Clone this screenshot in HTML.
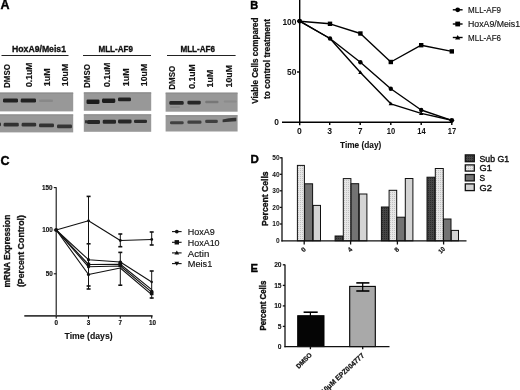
<!DOCTYPE html>
<html><head><meta charset="utf-8">
<style>
html,body{margin:0;padding:0;background:#fff;width:520px;height:390px;overflow:hidden}
svg{display:block;font-family:"Liberation Sans",sans-serif;filter:grayscale(1)}
.b{font-weight:bold}
</style></head>
<body>
<svg width="520" height="390" viewBox="0 0 520 390">
<defs>
<filter id="bl" x="-20%" y="-50%" width="140%" height="200%"><feGaussianBlur stdDeviation="0.65"/></filter>
<filter id="bl2" x="-20%" y="-50%" width="140%" height="200%"><feGaussianBlur stdDeviation="1"/></filter>
<pattern id="dots1" width="2" height="2" patternUnits="userSpaceOnUse"><rect width="2" height="2" fill="#e6e6e6"/><rect width="1" height="1" fill="#c2c2c2"/></pattern>
<pattern id="dots0" width="2" height="2" patternUnits="userSpaceOnUse"><rect width="2" height="2" fill="#454545"/><rect width="1" height="1" fill="#2a2a2a"/></pattern>
</defs>

<!-- ============ PANEL A ============ -->
<text class="b" x="0.5" y="9.2" font-size="12.5" stroke="#000" stroke-width="0.4">A</text>
<g class="b" font-size="9.4" fill="#111" stroke="#111" stroke-width="0.35">
<text x="12" y="51.8" textLength="54" lengthAdjust="spacingAndGlyphs">HoxA9/Meis1</text>
<text x="98.4" y="51.8" textLength="34.6" lengthAdjust="spacingAndGlyphs">MLL-AF9</text>
<text x="180.4" y="51.8" textLength="34.6" lengthAdjust="spacingAndGlyphs">MLL-AF6</text>
</g>
<g stroke="#222" stroke-width="1.2">
<line x1="1.5" y1="55.5" x2="68.5" y2="55.5"/>
<line x1="83" y1="55.5" x2="151" y2="55.5"/>
<line x1="167" y1="55.5" x2="235.6" y2="55.5"/>
</g>
<g class="b" font-size="8.2" fill="#111" stroke="#111" stroke-width="0.15">
<text transform="translate(10.4,87.9) rotate(-90)" textLength="23.8" lengthAdjust="spacingAndGlyphs">DMSO</text>
<text transform="translate(31.5,86.9) rotate(-90)" textLength="24.3" lengthAdjust="spacingAndGlyphs">0.1uM</text>
<text transform="translate(49.8,86.2) rotate(-90)" textLength="17.8" lengthAdjust="spacingAndGlyphs">1uM</text>
<text transform="translate(67.8,86.2) rotate(-90)" textLength="22.400000000000002" lengthAdjust="spacingAndGlyphs">10uM</text>
<text transform="translate(90.4,87.9) rotate(-90)" textLength="23.8" lengthAdjust="spacingAndGlyphs">DMSO</text>
<text transform="translate(110.4,86.9) rotate(-90)" textLength="24.3" lengthAdjust="spacingAndGlyphs">0.1uM</text>
<text transform="translate(129.3,86.2) rotate(-90)" textLength="17.8" lengthAdjust="spacingAndGlyphs">1uM</text>
<text transform="translate(147.2,86.2) rotate(-90)" textLength="22.400000000000002" lengthAdjust="spacingAndGlyphs">10uM</text>
<text transform="translate(174.7,89.7) rotate(-90)" textLength="23.8" lengthAdjust="spacingAndGlyphs">DMSO</text>
<text transform="translate(194.7,88.7) rotate(-90)" textLength="24.3" lengthAdjust="spacingAndGlyphs">0.1uM</text>
<text transform="translate(213.1,87.4) rotate(-90)" textLength="17.8" lengthAdjust="spacingAndGlyphs">1uM</text>
<text transform="translate(231.6,87.4) rotate(-90)" textLength="22.400000000000002" lengthAdjust="spacingAndGlyphs">10uM</text>
</g>
<!-- blots -->
<g fill="#989898">
<rect x="0" y="92.3" width="73.2" height="19.1"/>
<rect x="0" y="114.2" width="73.2" height="18.2"/>
<rect x="83.8" y="92.1" width="67.4" height="18.7"/>
<rect x="83.8" y="114.1" width="67.4" height="17.7"/>
<rect x="165.6" y="92.4" width="72" height="19.3"/>
<rect x="165.6" y="115" width="72" height="16.5"/>
</g>
<g fill="#8a8a8a" opacity="0.7">
<rect x="0" y="93" width="73.2" height="1"/>
<rect x="83.8" y="92.8" width="67.4" height="1"/>
<rect x="165.6" y="93.1" width="72" height="1"/>
<rect x="0" y="114.8" width="73.2" height="0.8"/>
<rect x="83.8" y="114.7" width="67.4" height="0.8"/>
<rect x="165.6" y="115.6" width="72" height="0.8"/>
</g>
<g filter="url(#bl)">
<!-- HoxA9 top -->
<rect x="3" y="98.6" width="15" height="3.9" rx="1.3" fill="#222"/>
<rect x="20.7" y="98.6" width="15.3" height="3.9" rx="1.3" fill="#222"/>
<rect x="39" y="99.5" width="14" height="2.4" rx="1.2" fill="#888"/>
<!-- HoxA9 bottom -->
<rect x="-2" y="122.6" width="3" height="3.6" rx="1.3" fill="#333"/>
<rect x="3.6" y="122.7" width="15.2" height="3.8" rx="1.3" fill="#333"/>
<rect x="21.6" y="122.7" width="14.6" height="3.8" rx="1.3" fill="#333"/>
<rect x="39" y="123.4" width="15" height="3.8" rx="1.3" fill="#333"/>
<rect x="57" y="124.5" width="15" height="3.8" rx="1.3" fill="#363636"/>
<!-- MLL-AF9 top -->
<rect x="86.5" y="99.4" width="13" height="4.7" rx="1.3" fill="#1e1e1e"/>
<rect x="102" y="98.4" width="13.3" height="4.5" rx="1.3" fill="#1e1e1e"/>
<rect x="118" y="97.6" width="13" height="3.7" rx="1.3" fill="#222"/>
<!-- MLL-AF9 bottom -->
<rect x="85" y="120" width="2" height="3.6" rx="1" fill="#333"/>
<rect x="87" y="120" width="13" height="4" rx="1.3" fill="#282828"/>
<rect x="102.7" y="119.8" width="13.3" height="4" rx="1.3" fill="#282828"/>
<rect x="118" y="119.4" width="13.6" height="4" rx="1.3" fill="#282828"/>
<rect x="134" y="119.8" width="13" height="3.2" rx="1.3" fill="#2a2a2a"/>
<!-- MLL-AF6 top -->
<rect x="169.3" y="101.1" width="14.4" height="3.7" rx="1.3" fill="#262626"/>
<rect x="187.4" y="100.7" width="13.4" height="3.7" rx="1.3" fill="#262626"/>
<rect x="205.2" y="100.8" width="13.3" height="2.5" rx="1.0" fill="#777"/>
<rect x="223.7" y="100.6" width="13" height="1.9" rx="0.8" fill="#8c8c8c"/>
<rect x="170" y="106.3" width="10" height="1.6" rx="0.8" fill="#8a8a8a"/>
<!-- MLL-AF6 bottom -->
<rect x="170" y="121.2" width="13.7" height="3" rx="1.3" fill="#404040"/>
<rect x="187.4" y="120.6" width="14.1" height="3.2" rx="1.3" fill="#404040"/>
<rect x="205.2" y="119.8" width="12.6" height="3.2" rx="1.3" fill="#404040"/>
<path d="M222.6,119.4 Q229,117.6 236.3,117.8 L236.3,121.2 Q229,121.8 222.6,122.2Z" fill="#363636"/>
</g>

<!-- ============ PANEL B ============ -->
<text class="b" x="250.3" y="9" font-size="11" stroke="#000" stroke-width="0.4">B</text>
<g class="b" font-size="8.3" fill="#111" stroke="#111" stroke-width="0.25">
<text transform="translate(258,103.8) rotate(-90)" textLength="86.3" lengthAdjust="spacingAndGlyphs">Viable Cells compared</text>
<text transform="translate(270,99) rotate(-90)" textLength="80" lengthAdjust="spacingAndGlyphs">to control treatment</text>
</g>
<g stroke="#000" stroke-width="1.4" fill="none">
<line x1="299.7" y1="0" x2="299.7" y2="125.3"/>
<line x1="282" y1="122.3" x2="452.5" y2="122.3"/>
<line x1="297" y1="21" x2="299.7" y2="21"/>
<line x1="297" y1="72" x2="299.7" y2="72"/>
<line x1="329.7" y1="122.3" x2="329.7" y2="125"/>
<line x1="360.2" y1="122.3" x2="360.2" y2="125"/>
<line x1="390.8" y1="122.3" x2="390.8" y2="125"/>
<line x1="421.2" y1="122.3" x2="421.2" y2="125"/>
<line x1="451.8" y1="122.3" x2="451.8" y2="125"/>
</g>
<g class="b" font-size="8.4" fill="#111" text-anchor="end">
<text x="296.4" y="24.6">100</text>
<text x="296.4" y="75.4">50</text>
<text x="279" y="124.8">0</text>
</g>
<g class="b" font-size="8.6" fill="#111" text-anchor="middle">
<text x="299.5" y="133.9">0</text>
<text x="329.7" y="133.9">3</text>
<text x="360.2" y="133.9">7</text>
<text x="391" y="133.9" textLength="8.4" lengthAdjust="spacingAndGlyphs">10</text>
<text x="421.4" y="133.9" textLength="8.4" lengthAdjust="spacingAndGlyphs">14</text>
<text x="452" y="133.9" textLength="8.4" lengthAdjust="spacingAndGlyphs">17</text>
</g>
<text class="b" x="340" y="148.3" font-size="9.3" textLength="41.3" lengthAdjust="spacingAndGlyphs" fill="#111" stroke="#111" stroke-width="0.1">Time (day)</text>
<g stroke="#000" stroke-width="1.4" fill="none" stroke-linejoin="round">
<polyline points="299.7,21.2 330,38.5 360.4,62.3 390.8,88.7 421.2,110 451.8,120.3"/>
<polyline points="299.7,21.2 330,23.8 360.4,33.5 390.8,62 421.2,45.2 451.8,51.4"/>
<polyline points="299.7,21.2 330,38.5 360.4,72.5 390.8,103.8 421.2,113.4 451.8,120.3"/>
</g>
<g fill="#000">
<circle cx="299.7" cy="21.2" r="2.4"/>
<circle cx="330" cy="38.5" r="2.2"/><circle cx="360.4" cy="62.3" r="2.2"/><circle cx="390.8" cy="88.7" r="2.2"/><circle cx="421.2" cy="110" r="2.2"/><circle cx="451.8" cy="120.3" r="2.4"/>
<rect x="327.8" y="21.6" width="4.4" height="4.4"/><rect x="358.2" y="31.3" width="4.4" height="4.4"/><rect x="388.6" y="59.8" width="4.4" height="4.4"/><rect x="419" y="43" width="4.4" height="4.4"/><rect x="449.6" y="49.2" width="4.4" height="4.4"/>
<path d="M360.4,70.3 L362.6,74 L358.2,74Z"/><path d="M390.8,101.6 L393,105.3 L388.6,105.3Z"/><path d="M421.2,111.2 L423.4,114.9 L419,114.9Z"/>
</g>
<!-- legend B -->
<g stroke="#000" stroke-width="1.4"><line x1="452.8" y1="9.8" x2="462.6" y2="9.8"/><line x1="452.8" y1="24" x2="462.6" y2="24"/><line x1="452.8" y1="37.5" x2="462.6" y2="37.5"/></g>
<circle cx="457.7" cy="9.8" r="2.4"/><rect x="455.3" y="21.6" width="4.8" height="4.8"/><path d="M457.7,35 L460.3,39.4 L455.1,39.4Z"/>
<g font-size="8.6" fill="#111" stroke="#111" stroke-width="0.15">
<text x="468" y="13" textLength="33" lengthAdjust="spacingAndGlyphs">MLL-AF9</text>
<text x="468" y="27.4" textLength="52" lengthAdjust="spacingAndGlyphs">HoxA9/Meis1</text>
<text x="468" y="40.8" textLength="33" lengthAdjust="spacingAndGlyphs">MLL-AF6</text>
</g>

<!-- ============ PANEL C ============ -->
<text class="b" x="0.5" y="164.8" font-size="12.5" stroke="#000" stroke-width="0.4">C</text>
<g class="b" font-size="8.6" fill="#111" stroke="#111" stroke-width="0.3">
<text transform="translate(10.3,287.6) rotate(-90)" textLength="73" lengthAdjust="spacingAndGlyphs">mRNA Expression</text>
<text transform="translate(23.9,287.1) rotate(-90)" textLength="72" lengthAdjust="spacingAndGlyphs">(Percent Control)</text>
</g>
<g stroke="#111" stroke-width="1.1" fill="none">
<line x1="56.2" y1="187.2" x2="56.2" y2="316"/>
<line x1="24.3" y1="315.9" x2="152.6" y2="315.9" stroke="#3a3a3a" stroke-width="1.7"/>
<line x1="53.8" y1="187.6" x2="56.2" y2="187.6"/>
<line x1="53.8" y1="230" x2="56.2" y2="230"/>
<line x1="53.8" y1="273.8" x2="56.2" y2="273.8"/>
<line x1="56.2" y1="315.9" x2="56.2" y2="318.6"/>
<line x1="88.5" y1="315.9" x2="88.5" y2="318.6"/>
<line x1="120.3" y1="315.9" x2="120.3" y2="318.6"/>
<line x1="151.7" y1="315.9" x2="151.7" y2="318.6"/>
</g>
<g class="b" font-size="6.3" fill="#111" text-anchor="end" stroke="#111" stroke-width="0.15">
<text x="52.4" y="189.8">150</text>
<text x="52.8" y="232.2">100</text>
<text x="52.8" y="276">50</text>
</g>
<g class="b" font-size="6.3" fill="#111" text-anchor="middle" stroke="#111" stroke-width="0.15">
<text x="56.2" y="324.5">0</text>
<text x="88.5" y="324.5">3</text>
<text x="120.3" y="324.5">7</text>
<text x="152.4" y="324.5">10</text>
</g>
<text class="b" x="64.5" y="339.2" font-size="9.4" textLength="48.2" lengthAdjust="spacingAndGlyphs" fill="#111" stroke="#111" stroke-width="0.1">Time (days)</text>
<!-- C error bars -->
<g stroke="#111" stroke-width="1" fill="none">
<line x1="88.5" y1="196.2" x2="88.5" y2="289"/>
<line x1="86.6" y1="196.4" x2="90.6" y2="196.4" stroke-width="1.6"/>
<line x1="86.6" y1="243.8" x2="90.6" y2="243.8" stroke-width="1.6"/>
<line x1="86.6" y1="286" x2="90.6" y2="286" stroke-width="1.6"/>
<line x1="86.6" y1="289" x2="90.6" y2="289" stroke-width="1.6"/>
<line x1="120.3" y1="234" x2="120.3" y2="246.7"/>
<line x1="118.3" y1="234" x2="122.3" y2="234" stroke-width="1.6"/>
<line x1="118.3" y1="246.7" x2="122.3" y2="246.7" stroke-width="1.6"/>
<line x1="120.3" y1="252.4" x2="120.3" y2="285.2"/>
<line x1="118.3" y1="252.4" x2="122.3" y2="252.4" stroke-width="1.6"/>
<line x1="118.3" y1="285.2" x2="122.3" y2="285.2" stroke-width="1.6"/>
<line x1="151.7" y1="232" x2="151.7" y2="245"/>
<line x1="149.7" y1="232" x2="153.7" y2="232" stroke-width="1.6"/>
<line x1="149.7" y1="245" x2="153.7" y2="245" stroke-width="1.6"/>
<line x1="151.7" y1="271" x2="151.7" y2="298.6"/>
<line x1="149.7" y1="271" x2="153.7" y2="271" stroke-width="1.6"/>
<line x1="149.7" y1="298" x2="153.7" y2="298" stroke-width="1.6"/>
</g>
<g stroke="#111" stroke-width="1.1" fill="none" stroke-linejoin="round">
<polyline points="56.2,230 88.5,220.8 120.3,240.5 151.7,239.5"/>
<polyline points="56.2,230 88.5,259.7 120.3,262 151.7,282"/>
<polyline points="56.2,230 88.5,264.5 120.3,264.2 151.7,289.6"/>
<polyline points="56.2,230 88.5,266.8 120.3,266 151.7,292.2"/>
<polyline points="56.2,230 88.5,274.5 120.3,268 151.7,294.6"/>
</g>
<g fill="#111">
<circle cx="56.2" cy="230" r="2"/>
<circle cx="88.5" cy="220.8" r="1.4"/><circle cx="120.3" cy="240.5" r="1.4"/><circle cx="151.7" cy="239.5" r="1.4"/>
<circle cx="88.5" cy="259.7" r="1.6"/><rect x="86.8" y="262.6" width="3.4" height="3.4"/><circle cx="88.5" cy="266.8" r="1.6"/><circle cx="88.5" cy="274.5" r="1.6"/>
<circle cx="120.3" cy="262.5" r="1.9"/><rect x="118.4" y="263" width="3.8" height="4"/>
<circle cx="151.7" cy="282" r="1.2"/><circle cx="151.7" cy="291.5" r="1.8"/><rect x="149.9" y="292" width="3.6" height="3.2"/>
</g>
<!-- legend C -->
<g stroke="#111" stroke-width="1.1"><line x1="172" y1="231.6" x2="181.6" y2="231.6"/><line x1="172" y1="242.3" x2="181.6" y2="242.3"/><line x1="172" y1="252.9" x2="181.6" y2="252.9"/><line x1="172" y1="263.6" x2="181.6" y2="263.6"/></g>
<g fill="#111"><circle cx="176.8" cy="231.6" r="1.9"/><rect x="174.6" y="240.1" width="4.4" height="4.4"/><path d="M176.8,250.6 L179.2,254.6 L174.4,254.6Z"/><path d="M176.8,265.8 L179.2,261.8 L174.4,261.8Z"/></g>
<g font-size="8.9" fill="#111" stroke="#111" stroke-width="0.15">
<text x="187.8" y="235" textLength="27" lengthAdjust="spacingAndGlyphs">HoxA9</text>
<text x="187.8" y="245.7" textLength="31.8" lengthAdjust="spacingAndGlyphs">HoxA10</text>
<text x="187.8" y="256.5" textLength="21.5" lengthAdjust="spacingAndGlyphs">Actin</text>
<text x="187.8" y="267.2" textLength="24.5" lengthAdjust="spacingAndGlyphs">Meis1</text>
</g>

<!-- ============ PANEL D ============ -->
<text class="b" x="250.5" y="163.3" font-size="11.5" stroke="#000" stroke-width="0.4">D</text>
<text class="b" transform="translate(267.5,226) rotate(-90)" font-size="8.6" textLength="54.6" lengthAdjust="spacingAndGlyphs" fill="#111" stroke="#111" stroke-width="0.35">Percent Cells</text>
<g class="b" font-size="6.6" fill="#111" text-anchor="end">
<text x="279.6" y="160.2">50</text>
<text x="279.6" y="176.6">40</text>
<text x="279.6" y="193.1">30</text>
<text x="279.6" y="209.7">20</text>
<text x="279.6" y="226.3">10</text>
<text x="279.6" y="242.8">0</text>
</g>
<g id="dbars" stroke="#111" stroke-width="1">
<!-- group 0 -->
<rect x="297.4" y="165.4" width="7" height="75.4" fill="url(#dots1)"/>
<rect x="304.6" y="183.8" width="8" height="57" fill="#737373"/>
<rect x="313.2" y="205.4" width="7.3" height="35.4" fill="#d4d4d4"/>
<!-- group 4 -->
<rect x="335.1" y="236" width="7.6" height="4.8" fill="url(#dots0)"/>
<rect x="343.3" y="178.6" width="7.6" height="62.2" fill="url(#dots1)"/>
<rect x="351.1" y="183.7" width="7.6" height="57.1" fill="#737373"/>
<rect x="359.3" y="194" width="7.6" height="46.8" fill="#d4d4d4"/>
<!-- group 8 -->
<rect x="381.4" y="207" width="7.6" height="33.8" fill="url(#dots0)"/>
<rect x="389.1" y="190.3" width="7.6" height="50.5" fill="url(#dots1)"/>
<rect x="396.8" y="217.2" width="8" height="23.6" fill="#737373"/>
<rect x="405.3" y="178.5" width="7.6" height="62.3" fill="#d4d4d4"/>
<!-- group 10 -->
<rect x="427" y="177.2" width="8" height="63.6" fill="url(#dots0)"/>
<rect x="435.3" y="168.5" width="8" height="72.3" fill="url(#dots1)"/>
<rect x="443.5" y="219" width="7.5" height="21.8" fill="#737373"/>
<rect x="451.3" y="230.4" width="7.2" height="10.4" fill="#d4d4d4"/>
</g>
<g stroke="#111" stroke-width="1.3" fill="none">
<line x1="282" y1="157.2" x2="282" y2="241.4"/>
<line x1="281.4" y1="240.8" x2="466.5" y2="240.8"/>
<line x1="279.8" y1="157.8" x2="282" y2="157.8"/>
<line x1="279.8" y1="174.3" x2="282" y2="174.3"/>
<line x1="279.8" y1="190.8" x2="282" y2="190.8"/>
<line x1="279.8" y1="207.4" x2="282" y2="207.4"/>
<line x1="279.8" y1="224" x2="282" y2="224"/>
<line x1="304.2" y1="240.8" x2="304.2" y2="244.5"/>
<line x1="350.6" y1="240.8" x2="350.6" y2="244.5"/>
<line x1="397.4" y1="240.8" x2="397.4" y2="244.5"/>
<line x1="443.6" y1="240.8" x2="443.6" y2="244.5"/>
</g>
<g class="b" font-size="6.6" fill="#111" text-anchor="end" stroke="#111" stroke-width="0.2">
<text transform="translate(306.4,250) rotate(-45)">0</text>
<text transform="translate(352.8,250) rotate(-45)">4</text>
<text transform="translate(399.6,250) rotate(-45)">8</text>
<text transform="translate(445.6,249.6) rotate(-45)" textLength="6.4" lengthAdjust="spacingAndGlyphs">10</text>
</g>
<!-- legend D -->
<g stroke="#111" stroke-width="1.3">
<rect x="465.3" y="154.9" width="9" height="6.8" fill="url(#dots0)"/>
<rect x="465.3" y="164.9" width="9" height="6.2" fill="url(#dots1)"/>
<rect x="465.3" y="174.5" width="9" height="6.4" fill="#737373"/>
<rect x="465.3" y="183.9" width="9" height="6.7" fill="#d4d4d4"/>
</g>
<g font-size="9" fill="#111" stroke="#111" stroke-width="0.4">
<text x="479.6" y="161.6" textLength="29.4" lengthAdjust="spacingAndGlyphs">Sub G1</text>
<text x="479.6" y="171.2" textLength="12.2" lengthAdjust="spacingAndGlyphs">G1</text>
<text x="479.6" y="181" textLength="5.6" lengthAdjust="spacingAndGlyphs">S</text>
<text x="479.6" y="190.7" textLength="12.2" lengthAdjust="spacingAndGlyphs">G2</text>
</g>

<!-- ============ PANEL E ============ -->
<text class="b" x="250.5" y="272.4" font-size="11.2" stroke="#000" stroke-width="0.4">E</text>
<text class="b" transform="translate(265.6,330.6) rotate(-90)" font-size="8.4" textLength="50" lengthAdjust="spacingAndGlyphs" fill="#111" stroke="#111" stroke-width="0.35">Percent Cells</text>
<g class="b" font-size="6.7" fill="#111" text-anchor="end" stroke="#111" stroke-width="0.1">
<text x="281.6" y="267.2">20</text>
<text x="281.6" y="287.8">15</text>
<text x="281.6" y="308.3">10</text>
<text x="281.6" y="328.8">5</text>
<text x="281.6" y="349.4">0</text>
</g>
<rect x="297.7" y="315.7" width="26.3" height="30.9" fill="#050505" stroke="#000" stroke-width="1"/>
<rect x="349.7" y="286.4" width="25.6" height="60.2" fill="#a9a9a9" stroke="#000" stroke-width="1.1"/>
<g stroke="#000" stroke-width="1.2">
<line x1="310.4" y1="312" x2="310.4" y2="316"/>
<line x1="303.6" y1="312.2" x2="317.7" y2="312.2" stroke-width="1.6"/>
<line x1="362.7" y1="282.7" x2="362.7" y2="291"/>
<line x1="356.3" y1="282.9" x2="369.4" y2="282.9" stroke-width="1.6"/>
<line x1="356.3" y1="291" x2="369.4" y2="291" stroke-width="1.6"/>
</g>
<g stroke="#111" stroke-width="1.3" fill="none">
<line x1="285" y1="264.6" x2="285" y2="347.2"/>
<line x1="284.4" y1="346.6" x2="389.5" y2="346.6"/>
<line x1="282.8" y1="264.8" x2="285" y2="264.8"/>
<line x1="282.8" y1="285.4" x2="285" y2="285.4"/>
<line x1="282.8" y1="305.9" x2="285" y2="305.9"/>
<line x1="282.8" y1="326.4" x2="285" y2="326.4"/>
<line x1="310.4" y1="346.6" x2="310.4" y2="349.2"/>
<line x1="362.7" y1="346.6" x2="362.7" y2="349.2"/>
</g>
<g class="b" font-size="7.2" fill="#111" text-anchor="end" stroke="#111" stroke-width="0.25">
<text transform="translate(312.4,355.4) rotate(-45)" font-size="6.6" textLength="19.4" lengthAdjust="spacingAndGlyphs">DMSO</text>
<text transform="translate(364.7,356.2) rotate(-43)" textLength="56" lengthAdjust="spacingAndGlyphs">10μM EPZ004777</text>
</g>
</svg>
</body></html>
